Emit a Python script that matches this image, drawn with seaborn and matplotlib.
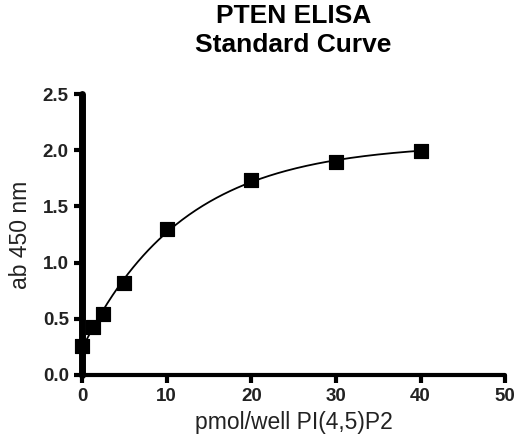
import numpy as np
import pandas as pd
import seaborn as sns
import matplotlib.pyplot as plt

# standard curve data
pmol = [0, 1.25, 2.5, 5, 10, 20, 30, 40]
absorbance = [0.26, 0.43, 0.54, 0.82, 1.30, 1.74, 1.90, 1.99]

df = pd.DataFrame({"pmol": pmol, "ab": absorbance})

# fit y = bottom + (top - bottom) * (1 - exp(-k x)) to the standards
x = np.array(pmol)
y = np.array(absorbance)
best = None
for k in np.linspace(0.01, 0.3, 600):
    A = np.column_stack([np.exp(-k * x), 1 - np.exp(-k * x)])
    coef, res, _, _ = np.linalg.lstsq(A, y, rcond=None)
    err = np.sum((A @ coef - y) ** 2)
    if best is None or err < best[0]:
        best = (err, k, coef)
_, k_fit, (bottom, top) = best
xs = np.linspace(0, 40, 200)
fit = pd.DataFrame({"pmol": xs, "ab": bottom * np.exp(-k_fit * xs) + top * (1 - np.exp(-k_fit * xs))})

sns.set_style("ticks")
plt.rcParams["font.family"] = ["Liberation Sans", "DejaVu Sans"]

fig = plt.figure(figsize=(5.16, 4.43), dpi=100)
ax = fig.add_axes([0.159, 0.1535, 0.82, 0.634])

sns.lineplot(data=fit, x="pmol", y="ab", color="black", linewidth=1.3, ax=ax)
sns.scatterplot(data=df, x="pmol", y="ab", marker="s", s=110, color="black",
                edgecolor="black", zorder=5, clip_on=False, ax=ax)

ax.set_xlim(0, 50)
ax.set_ylim(0, 2.5)
ax.set_xticks([0, 10, 20, 30, 40, 50])
ax.set_yticks([0.0, 0.5, 1.0, 1.5, 2.0, 2.5])
ax.set_yticklabels(["0.0", "0.5", "1.0", "1.5", "2.0", "2.5"])

for s in ["top", "right"]:
    ax.spines[s].set_visible(False)
ax.spines["left"].set_linewidth(5)
ax.spines["bottom"].set_linewidth(3)
for s in ["left", "bottom"]:
    ax.spines[s].set_color("black")
    ax.spines[s].set_capstyle("round")

ax.tick_params(axis="both", direction="out", length=6, width=3, color="black",
               labelsize=13.5, labelcolor="#222222")
for lab in ax.get_xticklabels() + ax.get_yticklabels():
    lab.set_fontweight("bold")

ax.set_xlabel("pmol/well PI(4,5)P2", fontsize=16.5, labelpad=4, color="#222222")
ax.set_ylabel("ab 450 nm", fontsize=16.5, labelpad=8, color="#222222")
ax.set_title("PTEN ELISA\nStandard Curve", fontsize=19, fontweight="bold",
             pad=30, linespacing=1.3, color="black")

fig.savefig("out.png", dpi=100)
